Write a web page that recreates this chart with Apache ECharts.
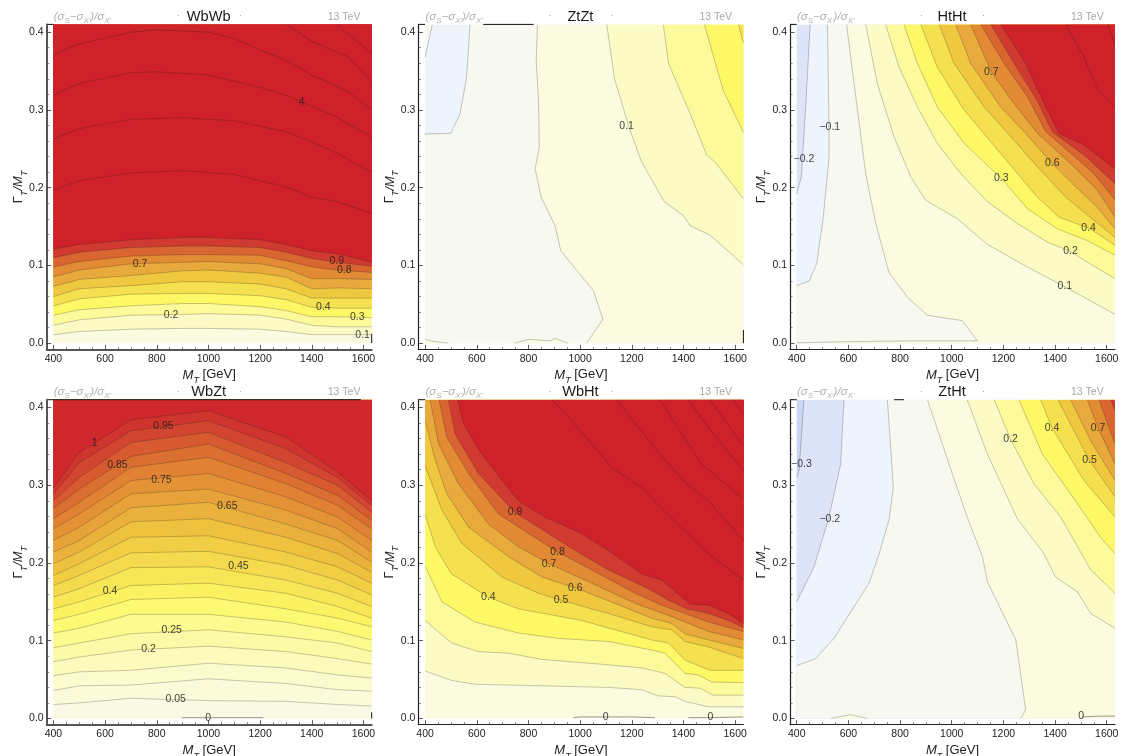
<!DOCTYPE html>
<html><head><meta charset="utf-8">
<style>html,body{margin:0;padding:0;background:#fff}#c{width:1123px;height:756px;filter:blur(0.3px)}</style>
<script src="https://cdn.jsdelivr.net/npm/echarts@6/dist/echarts.min.js"></script>
</head><body><div id="c"></div>
<script>
// ---- axis ticks ----
const xTickValues=[400,600,800,1000,1200,1400,1600];
const xMinorValues=[450,500,550,650,700,750,850,900,950,1050,1100,1150,1250,1300,1350,1450,1500,1550];
const yTickValues=[0,0.1,0.2,0.3,0.4];
const yMinorValues=[0.02,0.04,0.06,0.08,0.12,0.14,0.16,0.18,0.22,0.24,0.26,0.28,0.32,0.34,0.36,0.38];
const panelTitles=['WbWb','ZtZt','HtHt','WbZt','WbHt','ZtHt'];

// ---- WbWb ----
const wbwbX=[400,500,700,900,1000,1200,1300,1400,1500,1632];
const wbwbRows=[
[0.1,[.011,.015,.018,.019,.019,.018,.015,.011,.011,.011]],
[0.2,[.023,.030,.036,.037,.038,.036,.031,.023,.021,.021]],
[0.3,[.036,.043,.048,.051,.051,.047,.042,.034,.034,.033]],
[0.4,[.048,.057,.063,.064,.064,.061,.056,.046,.045,.045]],
[0.5,[.060,.070,.074,.079,.079,.076,.070,.058,.058,.058]],
[0.6,[.073,.082,.087,.093,.094,.090,.085,.070,.071,.070]],
[0.7,[.085,.094,.102,.104,.105,.102,.096,.083,.083,.082]],
[0.8,[.098,.105,.112,.114,.114,.113,.106,.098,.094,.091]],
[0.9,[.110,.117,.123,.125,.125,.123,.117,.109,.104,.099]],
[1,[.121,.127,.133,.136,.136,.133,.127,.119,.115,.104]]];
const wbwbHigh=[
[2,[[400,.197],[500,.209],[700,.219],[900,.222],[1100,.217],[1200,.209],[1300,.201],[1400,.188],[1500,.182],[1632,.167]]],
[3,[[400,.263],[500,.276],[700,.288],[900,.290],[1100,.286],[1200,.279],[1300,.272],[1400,.259],[1500,.244],[1632,.220]]],
[4,[[400,.319],[500,.334],[700,.348],[800,.349],[1000,.345],[1200,.329],[1300,.319],[1360,.310],[1484,.293],[1632,.265]]],
[5,[[400,.371],[500,.385],[700,.400],[800,.403],[1000,.400],[1100,.392],[1200,.377],[1300,.364],[1400,.345],[1542,.323],[1632,.300]]],
[6,[[1303,.41],[1400,.388],[1542,.368],[1632,.336]]],
[7,[[1497,.41],[1561,.392],[1632,.373]]]];
const wbwbLabels=[[735,.102,'0.7'],[1361,.310,'4'],[1497,.105,'0.9'],[1526,.094,'0.8'],[855,.036,'0.2'],[1445,.046,'0.4'],[1576,.034,'0.3'],[1597,.011,'0.1']];
const wbwbZero=[];

// ---- ZtZt ----
const ztztContours=[
[-0.1,[[400,.368],[428,.41]]],
[-0.1,[[574,.41],[560,.34],[535,.295],[500,.27],[400,.269],[400,.268]]],
[0,[[835,.41],[830,.364],[839,.312],[842,.252],[826,.224],[849,.188],[903,.151],[925,.119],[993,.091],[1051,.068],[1088,.031],[1026,0]]],
[0,[[490,0],[440,.002],[420,.003],[400,.005]]],
[0,[[952,0],[903,.006],[884,.003],[800,.005],[746,0]]],
[0.1,[[1103,.41],[1133,.34],[1193,.274],[1238,.233],[1326,.182],[1400,.164],[1426,.151],[1503,.139],[1632,.101]]],
[0.2,[[1322,.41],[1342,.36],[1426,.295],[1490,.242],[1522,.233],[1632,.186]]],
[0.3,[[1481,.41],[1509,.377],[1554,.325],[1632,.271]]],
[0.4,[[1613,.41],[1632,.386]]]];
const ztztLabels=[[1180,.279,'0.1']];
const ztztZero=[];

// ---- HtHt ----
const hthtContours=[
[-0.2,[[452,.41],[436,.31],[418,.214],[400,.192]]],
[-0.1,[[519,.41],[525,.278],[525,.239],[503,.162],[477,.102],[448,.08],[400,.074]]],
[0,[[593,.41],[622,.334],[667,.218],[706,.154],[757,.091],[829,.059],[906,.036],[1041,.029],[1099,.003],[893,.003],[609,.002],[400,.0005]]],
[0.1,[[667,.41],[712,.334],[777,.265],[841,.214],[899,.184],[1022,.160],[1138,.127],[1293,.098],[1441,.072],[1512,.059],[1632,.037]]],
[0.2,[[744,.41],[796,.355],[867,.304],[944,.257],[1035,.218],[1138,.182],[1254,.154],[1370,.130],[1460,.118],[1525,.104],[1632,.083]]],
[0.3,[[815,.41],[867,.360],[944,.304],[1048,.257],[1192,.212],[1293,.173],[1409,.147],[1525,.132],[1632,.113]]],
[0.4,[[880,.41],[944,.355],[1048,.300],[1189,.244],[1331,.188],[1415,.162],[1530,.148],[1632,.126]]],
[0.5,[[951,.41],[1009,.360],[1125,.304],[1241,.261],[1331,.227],[1441,.188],[1551,.158],[1632,.136]]],
[0.6,[[1015,.41],[1073,.360],[1189,.304],[1286,.270],[1389,.231],[1480,.201],[1563,.175],[1632,.147]]],
[0.7,[[1073,.41],[1153,.349],[1241,.308],[1331,.270],[1460,.231],[1563,.197],[1632,.162]]],
[0.8,[[1112,.41],[1202,.360],[1293,.317],[1364,.272],[1447,.248],[1551,.218],[1632,.184]]],
[0.9,[[1151,.41],[1241,.360],[1331,.312],[1389,.272],[1512,.242],[1632,.205]]],
[1,[[1190,.41],[1286,.360],[1331,.327],[1415,.270],[1512,.255],[1632,.224]]],
[2,[[1441,.41],[1512,.368],[1563,.327],[1632,.304]]],
[3,[[1602,.41],[1632,.385]]]];
const hthtLabels=[[1153,.349,'0.7'],[528,.278,'\u22120.1'],[428,.237,'\u22120.2'],[1389,.231,'0.6'],[1192,.212,'0.3'],[1530,.148,'0.4'],[1460,.118,'0.2'],[1438,.074,'0.1']];
const hthtZero=[];

// ---- WbZt ----
const wbztX=[400,500,700,1000,1300,1500,1632];
const wbztRows=[
[.05,[.018,.020,.026,.023,.022,.018,.016]],
[.1,[.036,.042,.043,.051,.045,.037,.035]],
[.15,[.055,.060,.062,.071,.065,.056,.052]],
[.2,[.073,.079,.088,.093,.086,.077,.070]],
[.25,[.091,.097,.109,.114,.105,.097,.086]],
[.3,[.110,.116,.134,.134,.124,.112,.101]],
[.35,[.126,.134,.153,.156,.141,.129,.118]],
[.4,[.141,.150,.171,.174,.161,.144,.129]],
[.45,[.156,.167,.194,.195,.178,.161,.144]],
[.5,[.171,.184,.213,.215,.197,.178,.159]],
[.55,[.184,.199,.233,.235,.214,.195,.174]],
[.6,[.199,.214,.253,.257,.233,.212,.188]],
[.65,[.214,.229,.271,.278,.250,.229,.201]],
[.7,[.229,.246,.289,.295,.268,.244,.214]],
[.75,[.244,.263,.306,.315,.285,.259,.229]],
[.8,[.257,.278,.323,.336,.302,.274,.244]],
[.85,[.270,.295,.337,.353,.315,.287,.255]],
[.9,[.280,.310,.355,.368,.329,.300,.265]],
[.95,[.289,.329,.370,.383,.347,.310,.274]],
[1,[.297,.342,.384,.396,.362,.317,.280]]];
const wbztLabels=[[560,.354,'1'],[826,.376,'0.95'],[648,.326,'0.85'],[818,.306,'0.75'],[1073,.273,'0.65'],[1116,.196,'0.45'],[619,.164,'0.4'],[858,.114,'0.25'],[768,.089,'0.2'],[873,.025,'0.05'],[999,.001,'0']];
const wbztZero=[[[897,.001],[1000,.001],[1213,.001]]];

// ---- WbHt ----
const wbhtContours=[
[0.1,[[400,.061],[503,.049],[594,.044],[1110,.040],[1239,.037],[1303,.029],[1368,.028],[1406,.022],[1497,.015],[1632,.015]]],
[0.2,[[400,.126],[503,.097],[606,.086],[723,.084],[852,.076],[1110,.069],[1239,.065],[1329,.058],[1406,.040],[1464,.039],[1516,.030],[1632,.030]]],
[0.3,[[400,.196],[465,.150],[594,.124],[761,.110],[916,.103],[1110,.099],[1277,.088],[1329,.084],[1406,.058],[1458,.056],[1509,.047],[1632,.046]]],
[0.4,[[400,.263],[439,.221],[501,.186],[645,.156],[761,.141],[1006,.126],[1135,.114],[1277,.101],[1342,.097],[1406,.075],[1503,.062],[1632,.062]]],
[0.5,[[400,.325],[465,.268],[542,.225],[697,.182],[839,.161],[926,.152],[1110,.135],[1277,.118],[1355,.114],[1406,.099],[1497,.092],[1632,.077]]],
[0.6,[[400,.383],[439,.332],[484,.289],[568,.246],[723,.208],[852,.182],[981,.168],[1135,.148],[1277,.129],[1355,.122],[1406,.109],[1497,.101],[1632,.090]]],
[0.7,[[419,.41],[452,.353],[529,.302],[645,.250],[761,.221],[880,.199],[1045,.174],[1213,.148],[1355,.131],[1406,.124],[1497,.112],[1632,.101]]],
[0.8,[[454,.41],[484,.362],[568,.315],[684,.263],[800,.238],[913,.214],[1045,.191],[1213,.161],[1329,.144],[1406,.135],[1497,.124],[1632,.112]]],
[0.9,[[490,.41],[516,.366],[606,.315],[748,.265],[839,.246],[981,.216],[1110,.191],[1264,.167],[1342,.152],[1413,.141],[1497,.135],[1574,.126],[1632,.117]]],
[1,[[526,.41],[548,.379],[619,.340],[761,.280],[864,.259],[1006,.238],[1110,.216],[1239,.186],[1316,.178],[1426,.147],[1497,.146],[1574,.135],[1632,.122]]],
[2,[[890,.41],[968,.383],[1122,.323],[1239,.297],[1316,.270],[1497,.212],[1632,.178]]],
[3,[[1142,.41],[1226,.374],[1342,.327],[1419,.300],[1497,.280],[1632,.229]]],
[4,[[1309,.41],[1368,.379],[1471,.327],[1632,.282]]],
[5,[[1419,.41],[1497,.374],[1632,.319]]],
[6,[[1503,.41],[1561,.383],[1632,.351]]],
[7,[[1593,.41],[1632,.391]]]];
const wbhtLabels=[[748,.265,'0.9'],[913,.214,'0.8'],[880,.199,'0.7'],[981,.168,'0.6'],[926,.152,'0.5'],[645,.156,'0.4'],[1099,.002,'0'],[1504,.002,'0']];
const wbhtZero=[[[974,.001],[1000,.002],[1200,.002],[1290,.001]],[[1419,.001],[1500,.001],[1632,.002]]];

// ---- ZtHt ----
const zthtContours=[
[-0.3,[[428,.41],[415,.347],[409,.319],[400,.310]]],
[-0.2,[[583,.41],[570,.327],[525,.259],[467,.195],[400,.150]]],
[-0.1,[[751,.41],[774,.297],[757,.255],[719,.212],[680,.174],[609,.137],[544,.103],[473,.077],[400,.068]]],
[0,[[906,.41],[1002,.315],[1060,.259],[1119,.208],[1138,.176],[1248,.101],[1286,.011],[1267,0]]],
[0,[[673,0],[609,.005],[532,0]]],
[0.1,[[1060,.41],[1138,.340],[1254,.257],[1357,.212],[1402,.182],[1486,.163],[1538,.135],[1632,.116]]],
[0.2,[[1164,.41],[1228,.359],[1318,.302],[1422,.259],[1538,.191],[1632,.161]]],
[0.3,[[1260,.41],[1351,.340],[1460,.289],[1576,.233],[1632,.212]]],
[0.4,[[1344,.41],[1388,.374],[1512,.306],[1632,.259]]],
[0.5,[[1411,.41],[1533,.332],[1632,.285]]],
[0.6,[[1460,.41],[1538,.357],[1632,.306]]],
[0.7,[[1525,.41],[1566,.374],[1632,.327]]],
[0.8,[[1570,.41],[1632,.353]]],
[0.9,[[1615,.41],[1632,.396]]]];
const zthtLabels=[[418,.327,'\u22120.3'],[528,.257,'\u22120.2'],[1228,.359,'0.2'],[1388,.374,'0.4'],[1566,.374,'0.7'],[1533,.332,'0.5'],[1501,.003,'0']];
const zthtZero=[[[1505,.002],[1570,.003],[1632,.003]]];

// ---- band colours (style) ----
const rampValues=[-0.35,-0.25,-0.15,-0.05,0.05,0.15,0.25,0.35,0.45,0.55,0.65,0.75,0.85,0.95,1.05];
const rampColors=['#CBD6F5','#DDE4F8','#EFF3FB','#F7F8EF','#FBFBE0','#FCFBC6','#FDFA9C','#FEF866','#F5E050','#F0C840','#E8AA3C','#E28A34','#D96530','#D03A30','#CE2129'];
function hex(c){return [1,3,5].map(i=>parseInt(c.substr(i,2),16));}
function bandColor(v){
  if(v<=rampValues[0])return rampColors[0];
  for(let i=1;i<rampValues.length;i++){ if(v<=rampValues[i]+1e-9){
    const t=(v-rampValues[i-1])/(rampValues[i]-rampValues[i-1]),a=hex(rampColors[i-1]),b=hex(rampColors[i]);
    return 'rgb('+a.map((q,k)=>Math.round(q+(b[k]-q)*t)).join(',')+')';}}
  return rampColors[rampColors.length-1];
}
const zip=(xs,rows)=>rows.map(r=>[r[0],xs.map((x,i)=>[x,r[1][i]])]);
const panelContours=[zip(wbwbX,wbwbRows).concat(wbwbHigh),ztztContours,hthtContours,zip(wbztX,wbztRows),wbhtContours,zthtContours];
const panelZero=[wbwbZero,ztztZero,hthtZero,wbztZero,wbhtZero,zthtZero];
const panelLabels=[wbwbLabels,ztztLabels,hthtLabels,wbztLabels,wbhtLabels,zthtLabels];
const panelBase=[0.05,-0.15,-0.25,0.025,0.05,-0.35];
const panelStep=[0.1,0.1,0.1,0.05,0.1,0.1];
const frameStubs=[
 [[[374,.41],[400,.41]],[[1632,0],[1632,.012]]],
 [[[374,.41],[400,.41]],[[625,.41],[820,.41]],[[1632,0],[1632,.017]]],
 [[[374,.41],[400,.41]]],
 [[[374,.41],[1590,.41]],[[1632,0],[1632,.008]]],
 [[[374,.41],[400,.41]]],
 [[[374,.41],[400,.41]],[[777,.41],[815,.41]]]];
const frameLeftWidth=[2,1.2,1.2,2,1.2,1.2];

const X0=400,X1=1632,Y0=0,Y1=0.41;
const corners=[[X0,Y1],[X0,Y0],[X1,Y0],[X1,Y1]];
function perim(p){
  if(p[0]===X0)return (Y1-p[1])/(Y1-Y0);
  if(p[1]===Y0)return 1+(p[0]-X0)/(X1-X0);
  if(p[0]===X1)return 2+(p[1]-Y0)/(Y1-Y0);
  return 3+(X1-p[0])/(X1-X0);
}
function closure(pts){
  const sE=perim(pts[pts.length-1]),sS=perim(pts[0]),ds=((sS-sE)%4+4)%4,out=[];
  const list=corners.map((c,i)=>[((i-sE)%4+4)%4,c]).filter(a=>a[0]<ds).sort((a,b)=>a[0]-b[0]);
  list.forEach(a=>out.push(a[1]));
  return pts.concat(out);
}

const lefts=[46.7,418.4,790],tops=[24.4,399.7],W=325,H=325;
const FONT='"Liberation Sans",Arial,sans-serif';
const option={animation:false,backgroundColor:'#fff',grid:[],xAxis:[],yAxis:[],series:[],title:[]};
const xRich={m:{fontSize:13,fontStyle:'italic',fontFamily:FONT,color:'#222',verticalAlign:'top',lineHeight:17},
  s:{fontSize:9,fontStyle:'italic',fontFamily:FONT,color:'#222',verticalAlign:'bottom',lineHeight:17},
  n:{fontSize:13,fontFamily:FONT,color:'#222',verticalAlign:'top',lineHeight:17}};
const gRich={m:{fontSize:11.5,fontWeight:'normal',fontStyle:'italic',fontFamily:FONT,color:'#b0b0b0',verticalAlign:'top',lineHeight:14},
  s:{fontSize:8,fontWeight:'normal',fontStyle:'italic',fontFamily:FONT,color:'#b0b0b0',verticalAlign:'bottom',lineHeight:14}};

panelTitles.forEach((name,i)=>{
  const L=lefts[i%3],T=tops[i<3?0:1];
  option.grid.push({left:L,top:T,width:W,height:H,show:false,outerBoundsMode:'none'});
  const line=w=>({show:true,onZero:false,lineStyle:{color:w>1.5?'#555':'#222',width:w}});
  option.xAxis.push({gridIndex:i,type:'value',min:374,max:1632,position:'bottom',z:6,
    name:'{m|M}{s|T}{n| [GeV]}',nameLocation:'middle',nameGap:19,nameTextStyle:{rich:xRich},
    axisLine:line(frameLeftWidth[i]),splitLine:{show:false},
    axisTick:{show:true,inside:true,length:4.5,customValues:xTickValues,lineStyle:{color:'#333',width:.8}},
    axisLabel:{show:true,customValues:xTickValues,margin:4,fontSize:10.5,fontFamily:FONT,color:'#1c1c1c',hideOverlap:false,formatter:v=>String(v)}});
  option.xAxis.push({gridIndex:i,type:'value',min:374,max:1632,position:'bottom',z:6,
    axisLine:{show:false,onZero:false},splitLine:{show:false},axisLabel:{show:false},
    axisTick:{show:true,inside:true,length:2.5,customValues:xMinorValues,lineStyle:{color:'#555',width:.7}}});
  option.yAxis.push({gridIndex:i,type:'value',min:-0.008,max:0.41,position:'left',z:6,
    name:'{n|\u0393}{s|T}{m|/M}{s|T}',nameLocation:'middle',nameGap:18,nameRotate:90,nameMoveOverlap:false,nameTextStyle:{rich:xRich},
    axisLine:line(frameLeftWidth[i]),splitLine:{show:false},
    axisTick:{show:true,inside:true,length:4.5,customValues:yTickValues,lineStyle:{color:'#333',width:.8}},
    axisLabel:{show:true,customValues:yTickValues,margin:3,fontSize:10.5,fontFamily:FONT,color:'#1c1c1c',hideOverlap:false,formatter:v=>v.toFixed(1)}});
  option.yAxis.push({gridIndex:i,type:'value',min:-0.008,max:0.41,position:'left',z:6,
    axisLine:{show:false,onZero:false},splitLine:{show:false},axisLabel:{show:false},
    axisTick:{show:true,inside:true,length:2.5,customValues:yMinorValues,lineStyle:{color:'#555',width:.7}}});

  const shapes=[{color:bandColor(panelBase[i]),fillPts:corners}];
  panelContours[i].forEach(c=>shapes.push({color:bandColor(c[0]+panelStep[i]/2),fillPts:closure(c[1]),linePts:c[1],stroke:'rgba(30,30,30,0.3)'}));
  panelZero[i].forEach(z=>shapes.push({linePts:z,stroke:'rgba(40,40,40,0.6)'}));
  option.series.push({type:'custom',xAxisIndex:2*i,yAxisIndex:2*i,silent:true,clip:true,z:2,
    data:shapes.map((s,k)=>[400,0,k]),encode:{x:0,y:1},
    renderItem:(p,api)=>{
      const s=shapes[api.value(2)],children=[],map=a=>a.map(q=>api.coord(q));
      if(s.fillPts)children.push({type:'polygon',shape:{points:map(s.fillPts)},style:{fill:s.color,stroke:null}});
      if(s.linePts)children.push({type:'polyline',shape:{points:map(s.linePts)},style:{fill:'none',stroke:s.stroke,lineWidth:.8}});
      return {type:'group',children};
    }});
  frameStubs[i].forEach(st=>option.series.push({type:'line',xAxisIndex:2*i,yAxisIndex:2*i,data:st,symbol:'none',silent:true,clip:false,z:5,lineStyle:{color:'#111',width:1}}));
  const labs=panelLabels[i];
  option.series.push({type:'custom',xAxisIndex:2*i,yAxisIndex:2*i,silent:true,clip:false,z:4,
    data:labs.map(l=>[l[0],l[1]]),encode:{x:0,y:1},
    renderItem:(p,api)=>{
      const c=api.coord([api.value(0),api.value(1)]);
      return {type:'text',x:c[0],y:c[1],style:{text:labs[p.dataIndex][2],fill:'rgba(30,30,30,0.85)',font:'10.5px '+FONT,textAlign:'center',textVerticalAlign:'middle'}};
    }});
  option.title.push({text:'{m|(\u03C3}{s|S}{m|\u2212\u03C3}{s|X\'}{m|)/\u03C3}{s|X\'}',left:L+7,top:T-13.5,padding:0,textStyle:{fontWeight:'normal',rich:gRich}});
  option.title.push({text:name,left:L+162,top:T-15,padding:0,textAlign:'center',textStyle:{fontSize:14.6,fontWeight:'normal',fontFamily:FONT,color:'#1a1a1a'}});
  option.title.push({text:'13 TeV',left:L+281,top:T-13,padding:0,textStyle:{fontSize:10.5,fontWeight:'normal',fontFamily:FONT,color:'#a8a8a8'}});
  option.title.push({text:'\u00B7',left:L+130,top:T-13,padding:0,textStyle:{fontSize:9,fontWeight:'normal',fontFamily:FONT,color:'#999'}});
  option.title.push({text:'\u00B7',left:L+192,top:T-13,padding:0,textStyle:{fontSize:9,fontWeight:'normal',fontFamily:FONT,color:'#999'}});
});
echarts.init(document.getElementById('c')).setOption(option);
</script></body></html>
